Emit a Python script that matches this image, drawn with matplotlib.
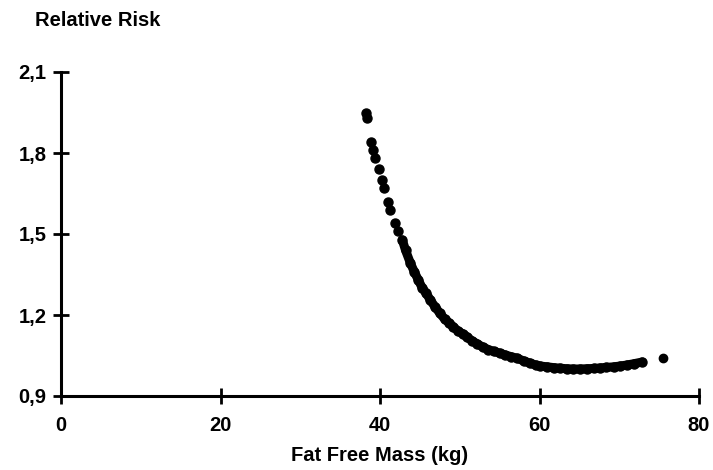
import numpy as np
import matplotlib.pyplot as plt

plt.rcParams['font.family'] = ['Liberation Sans', 'DejaVu Sans']
plt.rcParams['font.weight'] = 'bold'

# Relative risk vs fat free mass
ffm = [38.2, 38.4, 38.9, 39.1, 39.4, 39.9, 40.2, 40.5, 41.0, 41.2, 41.9, 42.3,
       42.8, 43.2, 43.8, 44.3, 44.8, 45.3, 45.8, 46.3, 46.9, 47.5, 48.1, 48.7,
       49.2, 49.8, 50.4, 50.9, 51.5, 52.2, 52.9, 53.6, 54.3, 55.0, 55.7, 56.4,
       57.2, 58.0, 58.8, 59.5, 60.1, 61.0, 61.8, 62.6, 63.4, 64.2, 65.1, 65.9,
       66.8, 67.6, 68.4, 69.3, 70.1, 71.0, 71.9, 72.9]
rr = [1.95, 1.93, 1.84, 1.81, 1.78, 1.74, 1.70, 1.67, 1.62, 1.59, 1.54, 1.51,
      1.478, 1.44, 1.393, 1.36, 1.33, 1.30, 1.28, 1.256, 1.23, 1.207, 1.185, 1.17,
      1.156, 1.14, 1.13, 1.119, 1.105, 1.093, 1.081, 1.072, 1.065, 1.059, 1.052, 1.046,
      1.040, 1.030, 1.022, 1.015, 1.011, 1.008, 1.005, 1.003, 1.001, 1.000, 1.000, 1.001,
      1.002, 1.004, 1.006, 1.008, 1.011, 1.015, 1.020, 1.026]
lone_ffm = [75.5]
lone_rr = [1.041]

xticks = [0, 20, 40, 60, 80]
yticks = [0.9, 1.2, 1.5, 1.8, 2.1]
ylabels = ["0,9", "1,2", "1,5", "1,8", "2,1"]

fig = plt.figure(figsize=(7.13, 4.70), dpi=100)
ax = fig.add_axes([61/713, 74/470, 638/713, 324/470])

# sparse top part as dots, dense part as a continuous band of dots
ax.plot(ffm, rr, 'o', color='black', ms=6.5, clip_on=False)
ax.plot(ffm[12:], rr[12:], '-', color='black', lw=6.5, solid_capstyle='round')
ax.plot(lone_ffm, lone_rr, 'o', color='black', ms=6, clip_on=False)

ax.set_xlim(0, 80)
ax.set_ylim(0.9, 2.1)
ax.set_xticks(xticks)
ax.set_yticks(yticks)
ax.set_yticklabels(ylabels)

for s in ['top', 'right']:
    ax.spines[s].set_visible(False)
for s in ['left', 'bottom']:
    ax.spines[s].set_linewidth(2.2)

ax.tick_params(direction='inout', length=11, width=2, labelsize=14.5, pad=5)
ax.tick_params(axis='x', pad=9)

ax.set_xlabel("Fat Free Mass (kg)", fontsize=14.5, fontweight='bold', labelpad=8)
fig.text(35/713, 1 - 20/470, "Relative Risk", fontsize=14.5, fontweight='bold',
         ha='left', va='center')

fig.savefig("out.png", dpi=100)
